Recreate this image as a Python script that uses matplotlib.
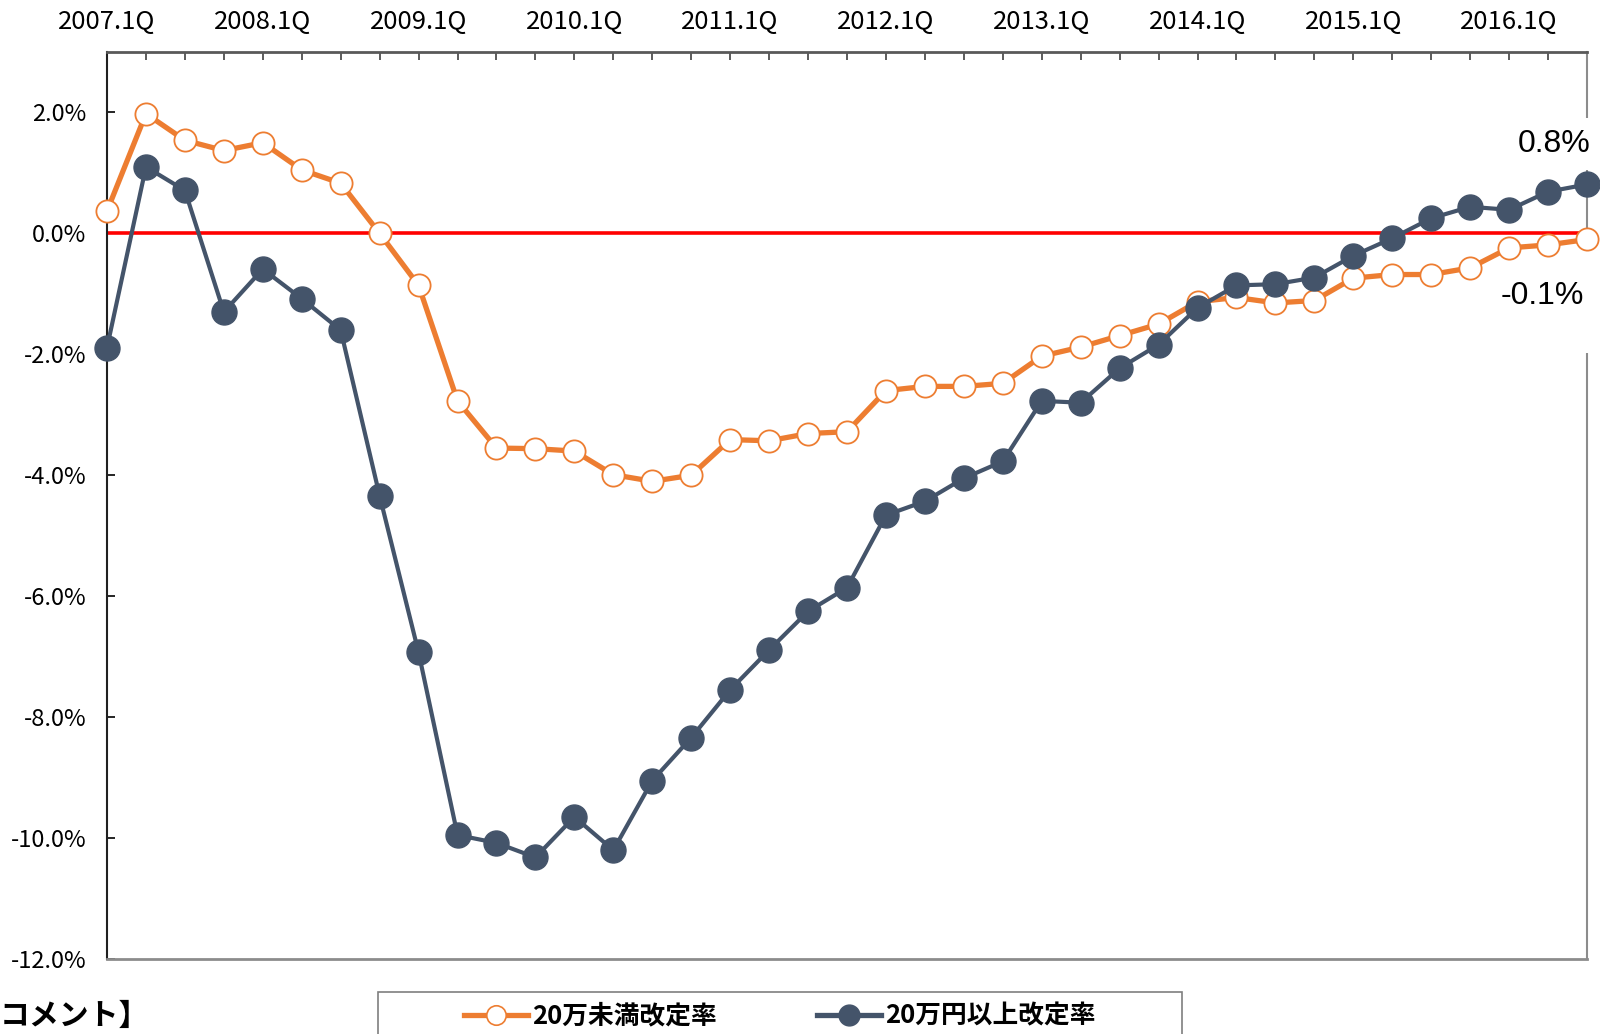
import matplotlib.pyplot as plt
from matplotlib.lines import Line2D
from matplotlib.patches import Rectangle

plt.rcParams['font.family'] = ['Noto Sans CJK JP', 'DejaVu Sans']

# ---- data ----
quarters = [f"{y}.{q}Q" for y in range(2007, 2017) for q in range(1, 5)][:39]
year_labels = [q for q in quarters if q.endswith(".1Q")]

under_20 = [0.37, 1.98, 1.54, 1.37, 1.50, 1.05, 0.83, 0.00, -0.86, -2.77,
            -3.55, -3.56, -3.60, -3.99, -4.10, -4.00, -3.41, -3.43, -3.31, -3.28,
            -2.60, -2.53, -2.53, -2.48, -2.03, -1.88, -1.69, -1.50, -1.13, -1.06,
            -1.15, -1.11, -0.74, -0.68, -0.68, -0.57, -0.24, -0.19, -0.10]
over_20 = [-1.89, 1.10, 0.71, -1.30, -0.59, -1.08, -1.60, -4.34, -6.93, -9.95,
           -10.08, -10.32, -9.65, -10.20, -9.05, -8.34, -7.55, -6.89, -6.25, -5.86,
           -4.66, -4.43, -4.05, -3.77, -2.77, -2.80, -2.23, -1.84, -1.23, -0.86,
           -0.84, -0.73, -0.37, -0.08, 0.25, 0.44, 0.39, 0.69, 0.81]

name_under = "20万未満改定率"
name_over = "20万円以上改定率"
yticks = [2, 0, -2, -4, -6, -8, -10, -12]

ORANGE = "#ED7D31"
NAVY = "#44546A"

fig = plt.figure(figsize=(16, 10.34), dpi=100)
ax = fig.add_axes([107 / 1600, 1 - 959 / 1034, 1480 / 1600, 907 / 1034])

x = list(range(len(quarters)))

ax.axhline(0, color="#FF0000", lw=2.6, zorder=2)
ax.plot(x, under_20, color=ORANGE, lw=3.8, marker="o", ms=16,
        mfc="white", mec=ORANGE, mew=1.3, clip_on=False, zorder=3)
ax.plot(x, over_20, color=NAVY, lw=3.0, marker="o", ms=18,
        mfc=NAVY, mec=NAVY, clip_on=False, zorder=4)

ax.set_xlim(0, len(quarters) - 1)
ax.set_ylim(-12, 3)

# x axis on top, labels at each year start
ax.xaxis.tick_top()
ax.set_xticks([i for i, q in enumerate(quarters) if q.endswith(".1Q")])
ax.set_xticklabels(year_labels)
ax.set_xticks(x, minor=True)
ax.tick_params(axis="x", which="both", direction="in", length=6, width=1.2,
               color="#404040", pad=12, labelsize=18.5, top=True, bottom=False)

ax.set_yticks(yticks)
ax.set_yticklabels([f"{v:.1f}%" for v in yticks])
ax.tick_params(axis="y", direction="in", length=6, width=1.2, pad=15,
               labelsize=17, right=False)

for s, c, w in [("left", "#202020", 1.5), ("top", "#595959", 2.0),
                ("bottom", "#8c8c8c", 2.0), ("right", "#8c8c8c", 1.5)]:
    ax.spines[s].set_color(c)
    ax.spines[s].set_linewidth(w)

# end-point data labels (white boxes sit over the right spine, under the lines)
ax.annotate(f"{over_20[-1]:.1f}%", xy=(x[-1], over_20[-1]), xytext=(-24, 29),
            textcoords="offset points", ha="center", va="center",
            fontsize=23, family=["Liberation Sans", "DejaVu Sans"],
            bbox=dict(facecolor="white", edgecolor="none", pad=8),
            zorder=2.8, annotation_clip=False)
ax.annotate(f"{under_20[-1]:.1f}%", xy=(x[-1], under_20[-1]), xytext=(-32, -41),
            textcoords="offset points", ha="center", va="center",
            fontsize=23, family=["Liberation Sans", "DejaVu Sans"],
            bbox=dict(facecolor="white", edgecolor="none", pad=30),
            zorder=2.8, annotation_clip=False)

# legend with a frame running off the bottom edge
fig.patches.append(Rectangle((378 / 1600, -0.02), 804 / 1600, 0.02 + 42 / 1034,
                             transform=fig.transFigure, facecolor="white",
                             edgecolor="#7f7f7f", lw=1.2))
handles = [Line2D([], [], color=ORANGE, lw=3.8, marker="o", ms=14,
                  mfc="white", mec=ORANGE, mew=1.2),
           Line2D([], [], color=NAVY, lw=3.8, marker="o", ms=15,
                  mfc=NAVY, mec=NAVY)]
fig.legend(handles, [name_under, name_over], loc="center",
           bbox_to_anchor=(780 / 1600, 1 - 1016 / 1034), ncol=2, frameon=False,
           handlelength=2.5, handletextpad=0.15, columnspacing=3.9,
           prop=dict(family=["Noto Sans CJK JP"], size=18.5, weight="bold"))

fig.text(0, 1 - 1016 / 1034, "コメント】", ha="left", va="center",
         fontsize=21.5, weight="bold", family=["Noto Sans CJK JP"])

fig.savefig("out.png", dpi=100)
